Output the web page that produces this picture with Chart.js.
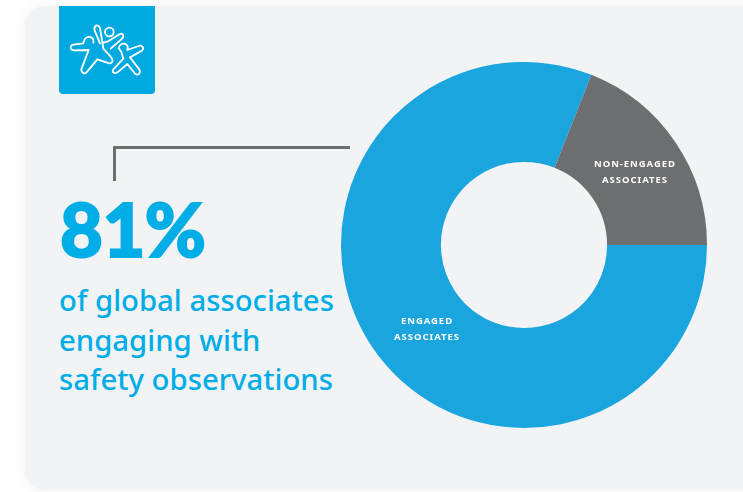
<!DOCTYPE html>
<html>
<head>
<meta charset="utf-8">
<title>Safety observations</title>
<script src="https://cdn.jsdelivr.net/npm/chart.js@4/dist/chart.umd.min.js"></script>
<style>
  html, body { margin: 0; padding: 0; background: #fff; overflow: hidden; }
  #page { position: relative; width: 743px; height: 492px; overflow: hidden; font-family: Lato, sans-serif; }
  #card {
    position: absolute; left: 25px; top: 6px; width: 760px; height: 484px;
    background: #f1f3f5; border-radius: 20px;
    box-shadow: 0 0 14px rgba(0, 0, 0, 0.06);
  }
  #badge { position: absolute; left: 59px; top: 6px; width: 96px; height: 88px; background: #00a9e0; border-radius: 0 0 4px 4px; }
  #icon { position: absolute; left: 40px; top: 0; width: 130px; height: 110px; }
  #icon path, #icon circle { fill: none; stroke: #fff; stroke-width: 5.5; stroke-linejoin: round; stroke-linecap: round; }
  .rule { position: absolute; background: #6d6e71; }
  #bigNumber { position: absolute; left: 60px; top: 185px; font-size: 74px; line-height: 88px; font-weight: 900; color: #00ade6; letter-spacing: -0.5px; -webkit-text-stroke: 2px #00ade6; }
  #caption { position: absolute; left: 59px; top: 281px; font-family: "Noto Sans", sans-serif; font-size: 29.3px; line-height: 39.5px; font-weight: 500; color: #00ade6; white-space: nowrap; }
  #chartBox { position: absolute; left: 341px; top: 62px; width: 366px; height: 366px; }
  .sliceLabel { position: absolute; width: 140px; text-align: center; color: #fff; font-family: "Noto Sans", sans-serif; font-size: 9.5px; line-height: 16px; font-weight: 700; letter-spacing: 0.95px; white-space: pre-line; }
</style>
</head>
<body>
<div id="page">
  <div id="card"></div>
  <div id="badge"></div>
  <svg id="icon" viewBox="0 0 390 330">
    <path d="M160 128 C166 108 136 104 132 124 L130 130 L100 134 C88 137 90 150 102 151 L146 150 L124 208 C124 222 136 224 144 212 L172 178 L208 190 C220 190 220 178 212 170 L190 146 L180 84 C174 70 160 76 164 92 L180 130"/>
    <circle cx="208" cy="96" r="13"/>
    <path d="M190 128 L204 124 L240 102 C250 98 254 110 244 118 L212 146"/>
    <path d="M262 150 C270 128 240 124 236 144 L244 156 L250 176 L220 208 C214 218 226 224 236 214 L262 192 L286 222 C298 228 304 216 296 206 L270 172 L306 152 C314 144 306 134 296 138 L262 150"/>
  </svg>
  <div class="rule" style="left:113px; top:146px; width:237px; height:2.5px;"></div>
  <div class="rule" style="left:113px; top:146px; width:2.5px; height:35px;"></div>
  <div id="bigNumber">81%</div>
  <div id="caption">of global associates<br>engaging with<br>safety observations</div>
  <div id="chartBox"><canvas id="donut" width="366" height="366"></canvas></div>
  <div class="sliceLabel" id="labelEngaged" style="left:357px; top:313px;"></div>
  <div class="sliceLabel" id="labelOther" style="left:565px; top:156px;"></div>
</div>
<script>
  const categories = ['Engaged associates', 'Non-engaged associates'];
  const shares = [81, 19];
  const sliceColors = ['#1aa5df', '#6d6e71'];
  const sliceLabels = ['ENGAGED\nASSOCIATES', 'NON-ENGAGED\nASSOCIATES'];

  document.getElementById('labelEngaged').textContent = sliceLabels[0];
  document.getElementById('labelOther').textContent = sliceLabels[1];

  new Chart(document.getElementById('donut').getContext('2d'), {
    type: 'doughnut',
    data: {
      labels: categories,
      datasets: [{
        data: shares,
        backgroundColor: sliceColors,
        borderWidth: 0,
      }]
    },
    options: {
      responsive: false,
      animation: false,
      rotation: 90, // first slice starts at three o'clock
      cutout: '45.4%',
      layout: { padding: 0 },
      plugins: {
        legend: { display: false },
        tooltip: { enabled: false }
      }
    }
  });
</script>
</body>
</html>
